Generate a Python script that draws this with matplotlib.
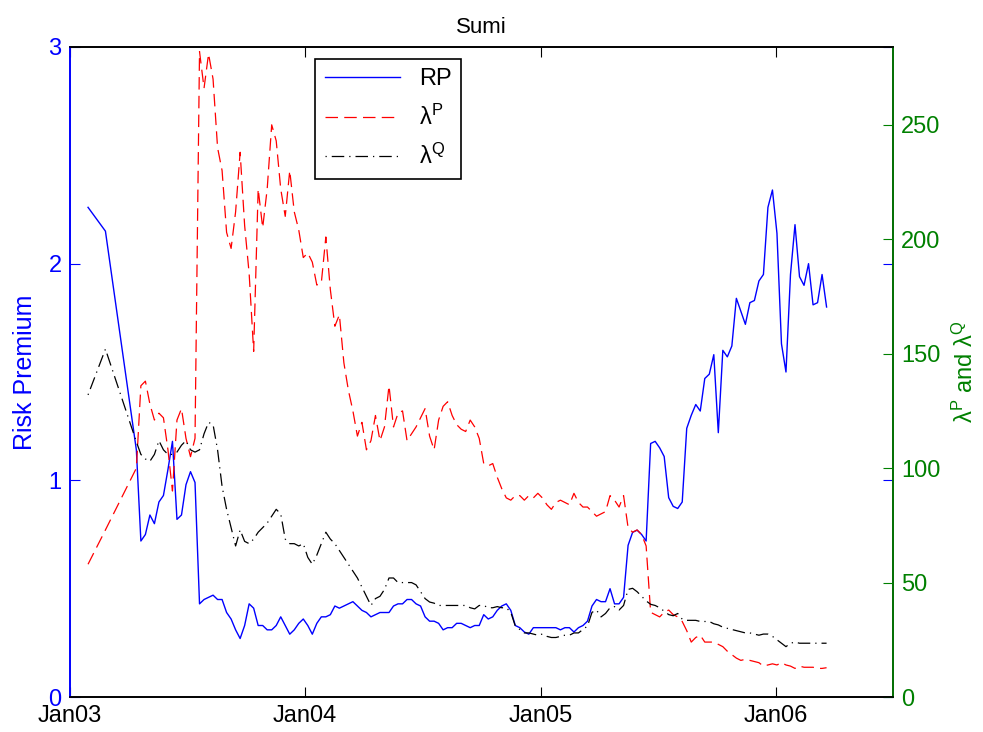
import numpy as np
import pandas as pd
import matplotlib
matplotlib.use("Agg")
import matplotlib.pyplot as plt
import matplotlib.dates as mdates

plt.rcParams['font.family'] = ['Liberation Sans', 'DejaVu Sans']
plt.rcParams['mathtext.fontset'] = 'custom'
plt.rcParams['mathtext.rm'] = 'Liberation Sans'
plt.rcParams['mathtext.it'] = 'Liberation Sans:italic'

# two early observations, then weekly from mid April 2003
dates = pd.to_datetime(["2003-01-29", "2003-02-25"]).append(
    pd.date_range("2003-04-14", periods=154, freq="7D"))

# risk premium (left axis)
rp = [2.26, 2.15,
      1.14, 0.72, 0.75, 0.84, 0.80, 0.90, 0.93, 1.05, 1.18, 0.82,
      0.84, 0.98, 1.04, 0.99, 0.43, 0.45, 0.46, 0.47, 0.45, 0.45,
      0.39, 0.36, 0.31, 0.27, 0.33, 0.43, 0.41, 0.33, 0.33, 0.31,
      0.31, 0.33, 0.37, 0.33, 0.29, 0.31, 0.34, 0.36, 0.33, 0.29,
      0.34, 0.37, 0.37, 0.38, 0.42, 0.41, 0.42, 0.43, 0.44, 0.42,
      0.40, 0.39, 0.37, 0.38, 0.39, 0.39, 0.39, 0.42, 0.43, 0.43,
      0.45, 0.45, 0.43, 0.42, 0.37, 0.35, 0.35, 0.34, 0.31, 0.32,
      0.32, 0.34, 0.34, 0.33, 0.32, 0.33, 0.33, 0.38, 0.36, 0.37,
      0.40, 0.42, 0.43, 0.40, 0.33, 0.32, 0.30, 0.29, 0.32, 0.32,
      0.32, 0.32, 0.32, 0.32, 0.31, 0.32, 0.32, 0.30, 0.32, 0.33,
      0.35, 0.42, 0.45, 0.44, 0.44, 0.50, 0.43, 0.43, 0.46, 0.70,
      0.76, 0.77, 0.75, 0.72, 1.17, 1.18, 1.15, 1.11, 0.92, 0.88,
      0.87, 0.90, 1.24, 1.30, 1.35, 1.32, 1.47, 1.49, 1.58, 1.22,
      1.60, 1.57, 1.62, 1.84, 1.78, 1.72, 1.82, 1.83, 1.92, 1.95,
      2.26, 2.34, 2.14, 1.63, 1.50, 1.95, 2.18, 1.94, 1.90, 2.00,
      1.81, 1.82, 1.95, 1.80]

# lambda P (right axis)
lam_p = [58, 73,
         100, 136, 138, 128, 121, 124, 122, 108, 90, 121,
         126, 113, 105, 113, 282, 266, 281, 270, 240, 230,
         203, 196, 212, 238, 206, 185, 151, 222, 205, 222,
         250, 243, 222, 210, 230, 212, 204, 192, 194, 190,
         180, 181, 201, 178, 162, 167, 146, 134, 125, 114,
         120, 108, 112, 123, 112, 118, 136, 118, 124, 125,
         112, 115, 118, 122, 126, 114, 108, 121, 127, 129,
         123, 119, 117, 116, 121, 118, 113, 102, 101, 102,
         96, 91, 87, 86, 88, 88, 86, 88, 87, 89,
         87, 84, 82, 85, 86, 85, 84, 89, 85, 83,
         83, 81, 79, 80, 81, 88, 86, 83, 88, 74,
         72, 73, 71, 66, 37, 36, 35, 37, 38, 36,
         35, 33, 29, 24, 26, 27, 24, 24, 24, 23,
         22, 20, 18.5, 17, 16, 16.5, 16, 15.5, 15, 13.5,
         14, 14.5, 14, 15, 14, 13.5, 12.5, 13.5, 13, 13,
         13, 12.5, 12.5, 12.8]

# lambda Q (right axis)
lam_q = [132, 152,
         111.5, 106, 104, 103, 106, 112, 108, 106, 106, 107,
         110, 112, 108, 107, 108, 115, 120, 119, 108, 92,
         82, 74, 66, 73, 68, 67, 69, 72, 74, 76,
         79, 82, 80, 69, 67, 67, 66, 67, 61, 58,
         62, 67, 72, 69, 67, 64, 61, 58, 55, 52,
         48, 44, 40, 43, 44, 47, 52, 52, 50, 50,
         50, 50, 49, 46, 43, 41.5, 41, 40, 40, 40,
         40, 40, 40, 40, 39, 38.5, 40, 40, 39, 39,
         39.5, 39, 39, 37, 31, 29.5, 28, 28, 27.5, 27,
         27.5, 26.5, 26, 26, 26.5, 27, 27, 28, 28, 29.5,
         31, 37, 38, 35, 36.5, 39, 39.5, 38, 40, 47,
         47.5, 46, 44, 42, 40.5, 40, 39, 37.5, 36, 35.5,
         36.5, 34, 33.5, 33.5, 33.5, 33, 33, 33, 32, 31.5,
         30.5, 30, 29.5, 29, 28.5, 28, 28, 27.5, 27, 27.5,
         27.5, 26.5, 25, 23.5, 22, 23.5, 24, 23.5, 23.5, 23.5,
         23.5, 23.5, 23.5, 23.5]

xticks = pd.to_datetime(["2003-01-01", "2004-01-01", "2005-01-01", "2006-01-01"])
blue = "#0000ff"
green = "#008000"

fig = plt.figure(figsize=(9.83, 7.32), dpi=100)
ax1 = fig.add_axes([0.0712, 0.0478, 0.8372, 0.888])
ax2 = ax1.twinx()

l1, = ax1.plot(dates, rp, color=blue, lw=1.0, label="RP")
l2, = ax2.plot(dates, lam_p, color="red", lw=0.9, dashes=(10, 5), label=r"$\mathrm{\lambda}^{\mathrm{P}}$")
l3, = ax2.plot(dates, lam_q, color="black", lw=0.9, dashes=(1, 4, 10, 4), label=r"$\mathrm{\lambda}^{\mathrm{Q}}$")

ax1.set_xlim(pd.Timestamp("2003-01-01"), pd.Timestamp("2006-07-01"))
ax1.set_ylim(0, 3)
ax2.set_ylim(0, 284)
ax1.set_yticks([0, 1, 2, 3])
ax2.set_yticks([0, 50, 100, 150, 200, 250])
ax1.set_xticks(xticks)
ax1.xaxis.set_major_formatter(mdates.DateFormatter("%b%y"))

ax1.tick_params(axis="x", direction="in", length=7, top=True, labelsize=17, pad=6, colors="black")
ax1.tick_params(axis="y", direction="in", length=7, right=True, labelright=False,
                labelsize=17, colors=blue, pad=6)
ax2.tick_params(axis="y", direction="in", length=7, labelsize=17, colors=green, pad=6)

ax1.spines["left"].set_color(blue)
ax2.spines["left"].set_color(blue)
ax2.spines["right"].set_color(green)
for ax in (ax1, ax2):
    for s in ax.spines.values():
        s.set_linewidth(1.2)

ax1.set_ylabel("Risk Premium", color=blue, fontsize=18)
ax1.yaxis.set_label_coords(-0.040, 0.5)
ax2.set_ylabel(r"$\mathrm{\lambda}^{\mathrm{P}}$ and $\mathrm{\lambda}^{\mathrm{Q}}$", color=green, fontsize=17)
ax2.yaxis.set_label_coords(1.073, 0.5)

ax1.set_title("Sumi", fontsize=16, pad=10)

leg = ax2.legend(handles=[l1, l2, l3], loc="upper left", bbox_to_anchor=(0.298, 0.9815),
                 borderaxespad=0, fontsize=17, handlelength=3.2, fancybox=False,
                 framealpha=1, edgecolor="black", labelspacing=0.6)
leg.get_frame().set_linewidth(1.2)

fig.savefig("out.png", dpi=100)
